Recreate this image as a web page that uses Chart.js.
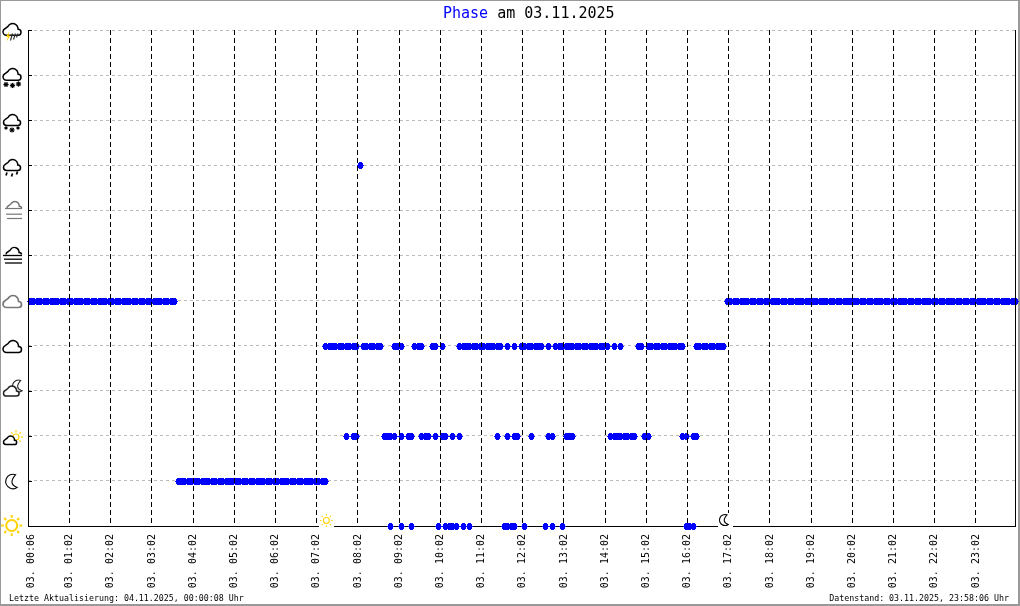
<!DOCTYPE html>
<html><head><meta charset="utf-8">
<script src="https://cdn.jsdelivr.net/npm/chart.js@4"></script>
<style>html,body{margin:0;padding:0;background:#fff;overflow:hidden}canvas{display:block}</style>
</head><body><canvas id="c" width="1020" height="606"></canvas>
<script>
// Sample slots (5-minute steps) per phase row
const phaseSun = [105,108,111,119,121,122,123,124,126,128,138,139,140,141,144,150,152,155,191,192,193];
const phaseMoon = [43,44,45,46,47,48,49,50,51,52,53,54,55,56,57,58,59,60,61,62,63,64,65,66,67,68,69,70,71,72,73,74,75,76,77,78,79,80,81,82,83,84,85,86];
const phaseSunCloud = [92,94,95,103,104,105,106,108,110,111,114,115,116,118,120,121,123,125,136,139,141,142,146,151,152,156,157,158,169,170,171,172,173,174,175,176,179,180,190,191,193,194];
const phaseCloud = [86,87,88,89,90,91,92,93,94,95,97,98,99,100,101,102,106,107,108,112,113,114,117,118,120,125,126,127,128,129,130,131,132,133,134,135,136,137,139,141,143,144,145,146,147,148,149,151,153,154,155,156,157,158,159,160,161,162,163,164,165,166,167,168,170,172,177,178,180,181,182,183,184,185,186,187,188,189,190,194,195,196,197,198,199,200,201,202];
const phaseOvercast = [0,1,2,3,4,5,6,7,8,9,10,11,12,13,14,15,16,17,18,19,20,21,22,23,24,25,26,27,28,29,30,31,32,33,34,35,36,37,38,39,40,41,42,203,204,205,206,207,208,209,210,211,212,213,214,215,216,217,218,219,220,221,222,223,224,225,226,227,228,229,230,231,232,233,234,235,236,237,238,239,240,241,242,243,244,245,246,247,248,249,250,251,252,253,254,255,256,257,258,259,260,261,262,263,264,265,266,267,268,269,270,271,272,273,274,275,276,277,278,279,280,281,282,283,284,285,286,287];
const phaseRain = [96];
const phaseRows = [[phaseSun,0],[phaseMoon,1],[phaseSunCloud,2],[phaseCloud,4],[phaseOvercast,5],[phaseRain,8]];
const tickSlots = [0.3,11.4,23.4,35.4,47.4,59.4,71.4,83.4,95.4,107.4,119.4,131.4,143.4,155.4,167.4,179.4,191.4,203.4,215.4,227.4,239.4,251.4,263.4,275.4];
const tickLabels = ["03. 00:06","03. 01:02","03. 02:02","03. 03:02","03. 04:02","03. 05:02","03. 06:02","03. 07:02","03. 08:02","03. 09:02","03. 10:02","03. 11:02","03. 12:02","03. 13:02","03. 14:02","03. 15:02","03. 16:02","03. 17:02","03. 18:02","03. 19:02","03. 20:02","03. 21:02","03. 22:02","03. 23:02"];
const sunriseSlot = 86.2;
const sunsetSlot = 202.3;
const titleWord = "Phase";
const titleRest = " am 03.11.2025";
const footLeft = "Letzte Aktualisierung: 04.11.2025, 00:00:08 Uhr";
const footRight = "Datenstand: 03.11.2025, 23:58:06 Uhr";

const PI = Math.PI, MONO = '"DejaVu Sans Mono", monospace';
const YEL = '#FFD200', GR = '#777';

// pixel diamond used as the point marker (top row blank keeps it on the grid pixel)
const marker = document.createElement('canvas');
marker.width = 7; marker.height = 8;
(function () {
  const m = marker.getContext('2d');
  m.fillStyle = '#0000ff';
  [3, 5, 5, 7, 5, 5, 3].forEach((w, r) => m.fillRect((7 - w) / 2, r + 1, w, 1));
})();

function cloud(c, x, y, w, col, fill, lw) {
  const s = w / 19;
  c.save(); c.translate(x, y); c.scale(s, s);
  c.beginPath();
  c.arc(3.5, 8.5, 3.5, 0.5 * PI, 1.35 * PI);
  c.arc(10, 5.5, 5.5, 1.15 * PI, 1.95 * PI);
  c.arc(15.5, 9, 3, 1.5 * PI, 0.5 * PI);
  c.closePath();
  c.restore();
  if (fill) { c.fillStyle = '#fff'; c.fill(); }
  c.strokeStyle = col; c.lineWidth = lw || 1.5; c.stroke();
}
function sun(c, x, y, r, r1, r2, lw) {
  c.strokeStyle = YEL; c.lineWidth = lw;
  c.beginPath(); c.arc(x, y, r, 0, 2 * PI); c.stroke();
  for (let i = 0; i < 8; i++) {
    const a = i * PI / 4;
    c.beginPath();
    c.moveTo(x + r1 * Math.cos(a), y + r1 * Math.sin(a));
    c.lineTo(x + r2 * Math.cos(a), y + r2 * Math.sin(a));
    c.stroke();
  }
}
function moon(c, x, y, r, col, fill) {
  c.beginPath();
  c.arc(x, y, r, -0.38 * PI, 0.3 * PI, true);
  const sx = x + r * Math.cos(-0.38 * PI), sy = y + r * Math.sin(-0.38 * PI);
  c.quadraticCurveTo(x - 0.75 * r, y + 0.35 * r, sx, sy);
  c.closePath();
  if (fill) { c.fillStyle = '#fff'; c.fill(); }
  c.strokeStyle = col; c.lineWidth = 1.1; c.stroke();
}
function star(c, x, y, r, col) {
  c.strokeStyle = col; c.lineWidth = 1.2;
  for (let i = 0; i < 4; i++) {
    const a = i * PI / 4;
    c.beginPath();
    c.moveTo(x - r * Math.cos(a), y - r * Math.sin(a));
    c.lineTo(x + r * Math.cos(a), y + r * Math.sin(a));
    c.stroke();
  }
}
function seg(c, x1, y1, x2, y2, col, lw) {
  c.strokeStyle = col; c.lineWidth = lw;
  c.beginPath(); c.moveTo(x1, y1); c.lineTo(x2, y2); c.stroke();
}
const icons = [
  (c, y) => sun(c, 11.7, y - 1, 5.5, 7.8, 10.5, 2),
  (c, y) => moon(c, 13, y, 7.3, '#000', false),
  (c, y) => { sun(c, 16, y + 0.5, 3, 4.8, 7, 1.1); cloud(c, 3.5, y - 0.5, 13.5, '#000', true); },
  (c, y) => { moon(c, 18.5, y - 5.5, 6, '#222', false); cloud(c, 3.5, y - 5.5, 16, '#222', true); },
  (c, y) => cloud(c, 3, y - 6, 19, '#000'),
  (c, y) => cloud(c, 3, y - 6, 19, GR, false, 1.7),
  (c, y) => { cloud(c, 6, y - 8, 16, '#000'); c.fillStyle = '#fff'; c.fillRect(3, y - 1, 20, 9);
    seg(c, 3, y, 22, y, '#000', 1.3); seg(c, 4, y + 3.7, 22, y + 3.7, '#000', 1.3); seg(c, 5, y + 7.5, 22, y + 7.5, '#000', 1.3); },
  (c, y) => { cloud(c, 7, y - 9, 15, GR); c.fillStyle = '#fff'; c.fillRect(4, y - 2, 19, 9);
    seg(c, 5, y - 2, 22, y - 2, GR, 1.2); seg(c, 6, y + 3.7, 22, y + 3.7, GR, 1.2); seg(c, 7, y + 8, 22, y + 8, GR, 1.2); },
  (c, y) => { cloud(c, 3.5, y - 6, 17.5, '#000');
    seg(c, 7, y + 7, 6, y + 10, '#000', 1.7); seg(c, 12.5, y + 8, 11.5, y + 11, '#000', 1.7); seg(c, 17.5, y + 6, 16.5, y + 9, '#000', 1.7); },
  (c, y) => { cloud(c, 3.5, y - 6, 17.5, '#000');
    star(c, 6, y + 7.5, 1.6, '#000'); star(c, 12, y + 9.5, 2.6, '#000'); star(c, 18, y + 7.5, 1.6, '#000'); },
  (c, y) => { cloud(c, 3, y - 7, 18.5, '#000');
    star(c, 6, y + 9, 2.6, '#000'); star(c, 12.5, y + 10, 2.6, '#000'); star(c, 18.5, y + 8.5, 2.6, '#000'); },
  (c, y) => { cloud(c, 3, y - 7, 18.5, '#000');
    c.fillStyle = YEL; c.beginPath(); c.moveTo(9, y + 1); c.lineTo(6, y + 6.5); c.lineTo(8, y + 6.5); c.lineTo(6.5, y + 11); c.lineTo(10.5, y + 5); c.lineTo(8.5, y + 5); c.closePath(); c.fill();
    seg(c, 12.5, y + 3, 10.5, y + 10, '#333', 1.2); seg(c, 15.5, y + 3, 13.5, y + 9, '#333', 1.2); seg(c, 18, y + 3, 16.5, y + 7, '#333', 1.2); }
];

const overlay = {
  id: 'overlay',
  beforeDraw(chart) {
    const c = chart.ctx;
    c.save();
    c.fillStyle = '#fff'; c.fillRect(0, 0, 1020, 606);
    c.fillStyle = '#999';
    c.fillRect(0, 0, 1020, 1); c.fillRect(0, 0, 1, 606);
    c.fillRect(1018, 0, 2, 606); c.fillRect(0, 604, 1020, 2);
    c.textBaseline = 'alphabetic'; c.textAlign = 'left';
    c.font = '15px ' + MONO;
    c.fillStyle = '#0000ff'; c.fillText(titleWord, 443, 18);
    c.fillStyle = '#000'; c.fillText(titleRest, 443 + c.measureText(titleWord).width, 18);
    c.font = '8.3px ' + MONO;
    c.fillText(footLeft, 9, 601);
    c.textAlign = 'right'; c.fillText(footRight, 1009, 601);
    c.restore();
  },
  beforeDatasetsDraw(chart) {
    const c = chart.ctx, a = chart.chartArea;
    c.imageSmoothingEnabled = false;
    c.save();
    seg(c, a.left, a.bottom + 0.5, a.right + 1, a.bottom + 0.5, '#000', 1);
    c.restore();
  },
  afterDraw(chart) {
    const c = chart.ctx, a = chart.chartArea, y = chart.scales.y, x = chart.scales.x;
    c.save();
    c.imageSmoothingEnabled = true;
    seg(c, a.left + 0.5, a.top, a.left + 0.5, a.bottom + 1, '#000', 1);
    seg(c, a.right + 0.5, a.top, a.right + 0.5, a.bottom + 1, '#000', 1);
    icons.forEach((draw, i) => {
      const py = Math.round(y.getPixelForValue(i)) + 0.5;
      if (i > 0 && i !== 5) seg(c, a.left, py, a.left + 4, py, '#000', 1);
      draw(c, py);
    });
    const sx = x.getPixelForValue(sunriseSlot), mx = x.getPixelForValue(sunsetSlot);
    c.fillStyle = '#fff';
    c.fillRect(Math.round(sx) - 7, a.bottom - 13, 15, 15);
    c.fillRect(Math.round(mx) - 7, a.bottom - 13, 15, 15);
    sun(c, sx, a.bottom - 5.5, 3, 5, 6.5, 1.1);
    moon(c, mx, a.bottom - 6, 5.5, '#000', false);
    c.restore();
  }
};

new Chart(document.getElementById('c'), {
  type: 'scatter',
  data: {
    datasets: phaseRows.map(([slots, row]) => ({
      data: slots.map(s => ({ x: s, y: row })),
      showLine: false, pointStyle: marker, pointRadius: 4, pointHoverRadius: 4,
      pointBorderWidth: 0, pointBackgroundColor: '#0000ff', pointBorderColor: '#0000ff', clip: false
    }))
  },
  plugins: [overlay],
  options: {
    responsive: false, animation: false, devicePixelRatio: 1,
    events: [],
    layout: { padding: { top: 30, right: 5, left: 0, bottom: 0 } },
    plugins: { legend: { display: false }, tooltip: { enabled: false }, title: { display: false } },
    scales: {
      x: {
        type: 'linear', min: -0.7, max: 286.77,
        afterBuildTicks(s) { s.ticks = tickSlots.map(v => ({ value: v })); },
        afterFit(s) { s.height = 80; s.paddingLeft = 0; s.paddingRight = 0; },
        grid: { z: 1, drawTicks: false, lineWidth: 1, color: ctx => ctx.index === 0 ? 'rgba(0,0,0,0)' : '#000' },
        border: { display: false, dash: [5, 3] },
        ticks: {
          autoSkip: false, minRotation: 90, maxRotation: 90, padding: 8, color: '#000',
          font: { family: MONO, size: 10 },
          callback: (v, i) => tickLabels[i]
        }
      },
      y: {
        type: 'linear', min: 0, max: 11,
        afterBuildTicks(s) { s.ticks = icons.map((_, i) => ({ value: i })); },
        afterFit(s) { s.width = 28; },
        grid: { drawTicks: false, color: '#bbb', lineWidth: 1 },
        border: { display: false, dash: [3, 3] },
        ticks: { display: false }
      }
    }
  }
});
</script></body></html>
